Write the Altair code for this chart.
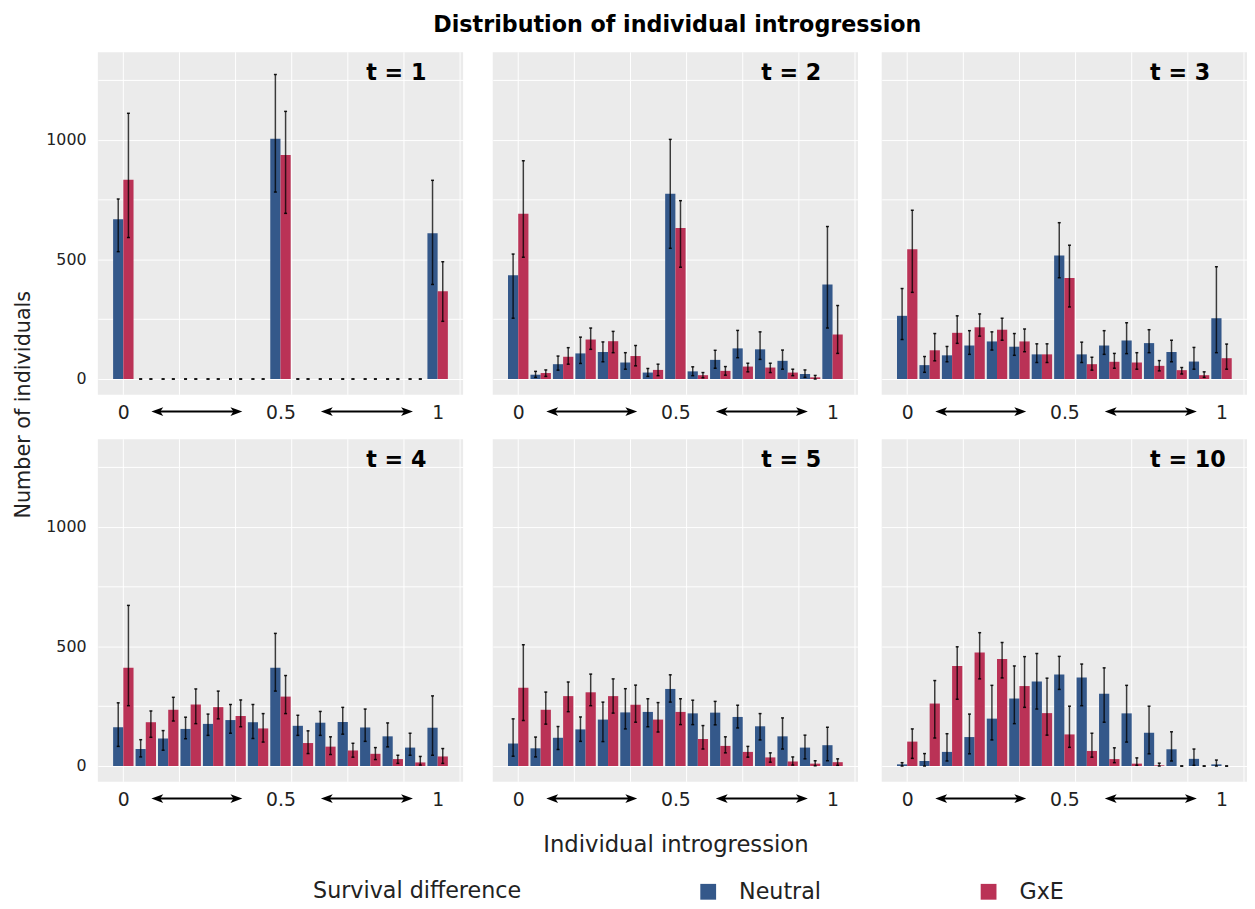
import altair as alt
import pandas as pd

# ---------------- data ----------------
PANELS = ["t = 1", "t = 2", "t = 3", "t = 4", "t = 5", "t = 10"]
BINS = list(range(15))               # introgression classes 0, 1/14, ..., 1
SERIES = ["Neutral", "GxE"]

# t = 1
N1 = [667, 0, 0, 0, 0, 0, 0, 1004, 0, 0, 0, 0, 0, 0, 609]
N1_lo = [532, 0, 0, 0, 0, 0, 0, 781, 0, 0, 0, 0, 0, 0, 395]
N1_hi = [752, 0, 0, 0, 0, 0, 0, 1272, 0, 0, 0, 0, 0, 0, 830]
G1 = [832, 0, 0, 0, 0, 0, 0, 936, 0, 0, 0, 0, 0, 0, 367]
G1_lo = [591, 0, 0, 0, 0, 0, 0, 692, 0, 0, 0, 0, 0, 0, 241]
G1_hi = [1110, 0, 0, 0, 0, 0, 0, 1118, 0, 0, 0, 0, 0, 0, 490]
# t = 2
N2 = [433, 18, 62, 107, 113, 69, 27, 774, 32, 80, 128, 124, 76, 21, 395]
N2_lo = [254, 7, 37, 65, 72, 41, 11, 546, 14, 45, 89, 82, 41, 7, 213]
N2_hi = [522, 32, 96, 175, 155, 110, 44, 1001, 51, 120, 203, 197, 121, 38, 637]
G2 = [690, 25, 93, 165, 158, 96, 38, 631, 16, 34, 52, 48, 27, 7, 186]
G2_lo = [509, 11, 62, 124, 110, 55, 14, 467, 5, 16, 30, 27, 14, 0, 107]
G2_hi = [912, 38, 131, 213, 199, 140, 62, 745, 27, 52, 66, 66, 41, 15, 307]
# t = 3
N3 = [264, 58, 99, 140, 157, 135, 103, 516, 103, 140, 161, 150, 113, 73, 254]
N3_lo = [165, 28, 72, 103, 121, 99, 69, 423, 69, 103, 106, 110, 72, 41, 110]
N3_hi = [378, 94, 136, 202, 197, 190, 147, 653, 154, 202, 235, 206, 162, 132, 469]
G3 = [542, 120, 193, 216, 206, 157, 103, 422, 62, 72, 69, 55, 37, 16, 87]
G3_lo = [362, 76, 149, 179, 162, 114, 69, 301, 37, 45, 41, 34, 21, 7, 41]
G3_hi = [705, 190, 264, 272, 254, 209, 147, 559, 91, 107, 110, 77, 48, 30, 146]
# t = 4
N4 = [162, 71, 115, 155, 176, 192, 183, 411, 168, 181, 184, 161, 124, 77, 160]
N4_lo = [82, 38, 66, 114, 128, 137, 115, 313, 128, 128, 133, 103, 80, 45, 45]
N4_hi = [264, 110, 148, 204, 217, 257, 257, 554, 212, 228, 245, 238, 180, 137, 293]
G4 = [411, 183, 235, 257, 246, 209, 157, 290, 96, 81, 65, 51, 29, 15, 40]
G4_lo = [252, 120, 188, 177, 197, 164, 100, 219, 52, 48, 37, 27, 11, 4, 11]
G4_hi = [671, 230, 287, 322, 313, 276, 219, 378, 147, 122, 95, 77, 45, 40, 73]
# t = 5
N5 = [94, 74, 118, 153, 194, 224, 226, 322, 220, 223, 205, 166, 124, 77, 87]
N5_lo = [41, 38, 69, 103, 102, 155, 164, 267, 173, 172, 159, 109, 71, 30, 22]
N5_hi = [197, 121, 165, 205, 267, 323, 281, 381, 275, 270, 254, 219, 201, 129, 162]
G5 = [327, 235, 292, 308, 292, 256, 194, 226, 113, 84, 59, 36, 19, 10, 16]
G5_lo = [190, 175, 227, 252, 221, 183, 142, 173, 71, 55, 37, 16, 4, 1, 3]
G5_hi = [507, 309, 351, 384, 364, 338, 265, 281, 169, 122, 82, 55, 38, 22, 30]
# t = 10
N10 = [7, 21, 59, 121, 198, 282, 353, 382, 370, 302, 220, 139, 70, 30, 7]
N10_lo = [0, 0, 21, 51, 109, 177, 238, 320, 252, 183, 100, 51, 21, 3, 0]
N10_hi = [14, 52, 135, 217, 337, 418, 470, 458, 426, 410, 337, 250, 143, 71, 25]
G10 = [102, 261, 418, 474, 447, 334, 221, 132, 63, 29, 10, 3, 0, 0, 0]
G10_lo = [32, 117, 279, 364, 368, 245, 129, 78, 37, 14, 3, 0, 0, 0, 0]
G10_hi = [155, 357, 498, 557, 516, 457, 367, 250, 137, 76, 34, 12, 0, 0, 0]

NEUTRAL = [(N1, N1_lo, N1_hi), (N2, N2_lo, N2_hi), (N3, N3_lo, N3_hi),
           (N4, N4_lo, N4_hi), (N5, N5_lo, N5_hi), (N10, N10_lo, N10_hi)]
GXE = [(G1, G1_lo, G1_hi), (G2, G2_lo, G2_hi), (G3, G3_lo, G3_hi),
       (G4, G4_lo, G4_hi), (G5, G5_lo, G5_hi), (G10, G10_lo, G10_hi)]

XTICK_POS = [0, 7, 14]
XTICK_LABELS = ["0", "0.5", "1"]
XGRID = [0, 2.5, 5, 7.5, 10, 12.5, 15]
YGRID = [0, 250, 500, 750, 1000, 1250]
ARROWS_START = [1.25, 8.8]
ARROWS_END = [5.3, 12.9]
TLABEL_X, TLABEL_Y = 10.82, 1280

BLUE = "#34588A"
RED = "#BA3256"
FONT = "DejaVu Sans"
W, H = 370, 347
X_DOMAIN = [-1.135, 15.135]
Y_DOMAIN = [-66, 1365]
HALF = 0.455

rows = []
for p, t in enumerate(PANELS):
    for s, src in zip(SERIES, (NEUTRAL[p], GXE[p])):
        m, lo, hi = src
        for k in BINS:
            rows.append({"t": t, "series": s, "bin": k, "value": m[k], "lo": lo[k], "hi": hi[k]})
full = pd.DataFrame(rows)

x_scale = alt.Scale(domain=X_DOMAIN, nice=False, zero=False)
y_scale = alt.Scale(domain=Y_DOMAIN, nice=False, zero=False)
label_expr = " : ".join(
    f"datum.value == {v} ? '{l}'" for v, l in zip(XTICK_POS[:-1], XTICK_LABELS[:-1])
) + f" : '{XTICK_LABELS[-1]}'"

color = alt.Color(
    "series:N",
    scale=alt.Scale(domain=SERIES, range=[BLUE, RED]),
    legend=alt.Legend(
        title="Survival difference", orient="none", direction="horizontal",
        legendX=303, legendY=839, titleOrient="left", titleFontSize=22.5,
        titleFontWeight="normal", titleColor="#222", titlePadding=178, titleLimit=500,
        labelFontSize=22.5, labelColor="#222", symbolType="square", symbolSize=256,
        symbolStrokeWidth=0, symbolOpacity=1, labelOffset=20, columnPadding=158,
        titleBaseline="middle", labelLimit=300,
    ),
)


def panel(p, show_y, xtitle):
    d = full[full.t == PANELS[p]]
    xaxis = alt.Axis(
        values=XTICK_POS, labelExpr=label_expr, grid=False, ticks=False, domain=False,
        labelFontSize=19, labelPadding=9, labelColor="#222",
        title="Individual introgression" if xtitle else None,
        titleFontSize=23, titleFontWeight="normal", titlePadding=25, titleColor="#222",
    )
    yaxis = alt.Axis(
        values=YGRID, format="d", labelExpr="datum.value % 500 == 0 ? datum.label : ''",
        labels=show_y, grid=True, gridColor="white", gridWidth=1, ticks=False,
        domain=False, labelFontSize=16, labelPadding=12, labelColor="#222", title=None,
    )

    def X(f):
        return alt.X(f, scale=x_scale, axis=xaxis)

    def Y(f):
        return alt.Y(f, scale=y_scale, axis=yaxis)

    grid = alt.Chart(pd.DataFrame({"g": XGRID})).mark_rule(color="white", strokeWidth=1).encode(
        x=X("g:Q")
    )
    base = alt.Chart(d).transform_calculate(
        x0="datum.bin + (datum.series == 'Neutral' ? -%f : 0)" % HALF,
        x1="datum.bin + (datum.series == 'Neutral' ? 0 : %f)" % HALF,
        xc="datum.bin + (datum.series == 'Neutral' ? -%f : %f)" % (HALF / 2, HALF / 2),
    )
    bars = base.mark_bar(opacity=1).encode(
        x=X("x0:Q"), x2="x1:Q", y=Y("value:Q"), y2=alt.datum(0), color=color,
    )
    err = base.mark_rule(color="black", opacity=0.75, strokeWidth=1.5).encode(
        x=X("xc:Q"), y=Y("lo:Q"), y2="hi:Q",
    )
    cap_lo = base.mark_tick(orient="horizontal", size=3, thickness=1.5, color="black", opacity=0.9).encode(
        x=X("xc:Q"), y=Y("lo:Q"),
    )
    cap_hi = base.mark_tick(orient="horizontal", size=3, thickness=1.5, color="black", opacity=0.9).encode(
        x=X("xc:Q"), y=Y("hi:Q"),
    )
    tlab = alt.Chart(pd.DataFrame({"lab": [PANELS[p]], "tx": [TLABEL_X], "ty": [TLABEL_Y]})).mark_text(
        align="left", baseline="middle", fontSize=22.5, fontWeight="bold", color="black", font=FONT
    ).encode(x=X("tx:Q"), y=Y("ty:Q"), text="lab:N")
    adf = pd.DataFrame({"a": ARROWS_START, "b": ARROWS_END})
    ay = H + 17
    aline = alt.Chart(adf).mark_rule(color="black", strokeWidth=2).transform_calculate(
        a2="datum.a + 0.3", b2="datum.b - 0.3"
    ).encode(x=X("a2:Q"), x2="b2:Q", y=alt.value(ay))
    head_l = alt.Chart(adf).mark_point(
        shape="M0,0 L2,-0.75 L1.5,0 L2,0.75 Z", size=144, filled=True, color="black", opacity=1
    ).encode(x=X("a:Q"), y=alt.value(ay))
    head_r = alt.Chart(adf).mark_point(
        shape="M0,0 L-2,-0.75 L-1.5,0 L-2,0.75 Z", size=144, filled=True, color="black", opacity=1
    ).encode(x=X("b:Q"), y=alt.value(ay))
    return alt.layer(grid, bars, err, cap_lo, cap_hi, tlab, aline, head_l, head_r).properties(
        width=W, height=H, view=alt.ViewBackground(fill="#EBEBEB", strokeWidth=0)
    )


p = [panel(i, i in (0, 3), i == 4) for i in range(6)]
row1 = alt.hconcat(alt.hconcat(p[0], p[1], spacing=30), p[2], spacing=24)
row2 = alt.hconcat(alt.hconcat(p[3], p[4], spacing=30), p[5], spacing=24)
grid_block = alt.vconcat(row1, row2, spacing=16)

ytitle = alt.Chart(pd.DataFrame({"t": ["Number of individuals"]})).mark_text(
    angle=270, fontSize=21, color="#222", font=FONT, baseline="middle", align="center"
).encode(text="t:N", x=alt.value(10), y=alt.value(357)).properties(
    width=20, height=2 * H + 40, view=alt.ViewBackground(fill="white", strokeWidth=0)
)

chart = alt.hconcat(ytitle, grid_block, spacing=12).properties(
    title=alt.TitleParams(
        "Distribution of individual introgression", fontSize=22.5, fontWeight="bold",
        anchor="middle", font=FONT, color="black", offset=16, dx=48,
    ),
    padding={"left": 5, "top": 0, "right": 0, "bottom": 0},
).configure(font=FONT).configure_view(strokeWidth=0)

chart.save("out.html", embed_options={"renderer": "svg", "actions": False})
